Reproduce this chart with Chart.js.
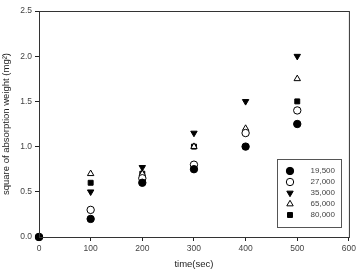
<!DOCTYPE html>
<html>
<head>
<meta charset="utf-8">
<script src="https://cdn.jsdelivr.net/npm/chart.js@4"></script>
<style>
  html, body { margin: 0; padding: 0; background: #fff; }
  #wrap { width: 359px; height: 270px; }
</style>
</head>
<body>
<div id="wrap"><canvas id="chart" width="359" height="270"></canvas></div>
<script>
// data
const times = [0, 100, 200, 300, 400, 500];
const labels = ["19,500", "27,000", "35,000", "65,000", "80,000"];
const s19500 = [0, 0.2, 0.6, 0.75, 1.0, 1.25];
const s27000 = [0, 0.3, 0.65, 0.8, 1.15, 1.4];
const s35000 = [0, 0.5, 0.77, 1.15, 1.5, 2.0];
const s65000 = [0, 0.7, 0.7, 1.0, 1.2, 1.75];
const s80000 = [0, 0.6, 0.7, 1.0, 1.0, 1.5];
const xTicks = [0, 100, 200, 300, 400, 500, 600];
const yTicks = [0, 0.5, 1.0, 1.5, 2.0, 2.5];

const FONT = "'Liberation Sans', Arial, sans-serif";

function pts(vals) {
  return vals.map((v, i) => ({ x: times[i], y: v }));
}

function mk(label, vals, style, filled, rot) {
  return {
    label: label,
    data: pts(vals),
    showLine: false,
    pointStyle: style,
    pointRotation: rot || 0,
    pointRadius: style === "rect" ? 3.5 : 3.7,
    pointBorderWidth: 1,
    pointBorderColor: "#000",
    pointBackgroundColor: filled ? "#000" : "#fff",
    clip: false,
  };
}

const datasets = [
  mk(labels[0], s19500, "circle", true),
  mk(labels[1], s27000, "circle", false),
  mk(labels[2], s35000, "triangle", true, 180),
  mk(labels[3], s65000, "triangle", false),
  mk(labels[4], s80000, "rect", true),
];

// frame + legend box drawn inside the plot
const framePlugin = {
  id: "frame",
  afterDraw(chart) {
    const ctx = chart.ctx;
    const a = chart.chartArea;
    ctx.save();
    ctx.strokeStyle = "#333";
    ctx.lineWidth = 1;
    ctx.strokeRect(a.left + 0.5, a.top + 0.5, a.right - a.left, a.bottom - a.top);

    // legend
    const bx = 277, by = 159, bw = 64, bh = 68;
    ctx.strokeStyle = "#555";
    ctx.strokeRect(bx + 0.5, by + 0.5, bw, bh);
    ctx.font = "8px " + FONT;
    ctx.textAlign = "right";
    ctx.textBaseline = "middle";
    chart.data.datasets.forEach((ds, i) => {
      const y = by + 12 + i * 11;
      ctx.fillStyle = ds.pointBackgroundColor;
      ctx.strokeStyle = "#000";
      ctx.lineWidth = 1;
      Chart.helpers.drawPoint(ctx, {
        pointStyle: ds.pointStyle,
        rotation: ds.pointRotation,
        radius: ds.pointRadius,
        borderWidth: 1,
      }, bx + 13, y);
      ctx.fillStyle = "#444";
      ctx.fillText(ds.label, bx + 58, y);
    });
    ctx.restore();
  },
};

new Chart(document.getElementById("chart"), {
  type: "scatter",
  data: { datasets: datasets },
  options: {
    responsive: false,
    animation: false,
    layout: { padding: { top: 11, right: 7, left: 0, bottom: 0 } },
    plugins: {
      legend: { display: false },
      tooltip: { enabled: false },
    },
    scales: {
      x: {
        type: "linear",
        min: 0,
        max: 600,
        afterFit: (s) => { s.height = 33; },
        afterBuildTicks: (s) => { s.ticks = xTicks.map((v) => ({ value: v })); },
        grid: { drawOnChartArea: false, tickLength: 4, color: "#222" },
        border: { color: "#222", width: 1 },
        ticks: { color: "#444", font: { family: FONT, size: 8.5 }, padding: 3, maxRotation: 0 },
        title: {
          display: true,
          text: "time(sec)",
          color: "#222",
          font: { family: FONT, size: 9.5 },
          padding: { top: 2, bottom: 0 },
        },
      },
      y: {
        type: "linear",
        min: 0,
        max: 2.5,
        afterFit: (s) => { s.width = 39; },
        afterBuildTicks: (s) => { s.ticks = yTicks.map((v) => ({ value: v })); },
        grid: { drawOnChartArea: false, tickLength: 4, color: "#222" },
        border: { color: "#222", width: 1 },
        ticks: {
          color: "#444",
          font: { family: FONT, size: 8.5 },
          padding: 3,
          callback: (v) => Number(v).toFixed(1),
        },
        title: {
          display: true,
          text: "square of absorption weight (mg²)",
          color: "#222",
          font: { family: FONT, size: 9.5 },
          padding: { top: 1, bottom: 1 },
        },
      },
    },
  },
  plugins: [framePlugin],
});
</script>
</body>
</html>
